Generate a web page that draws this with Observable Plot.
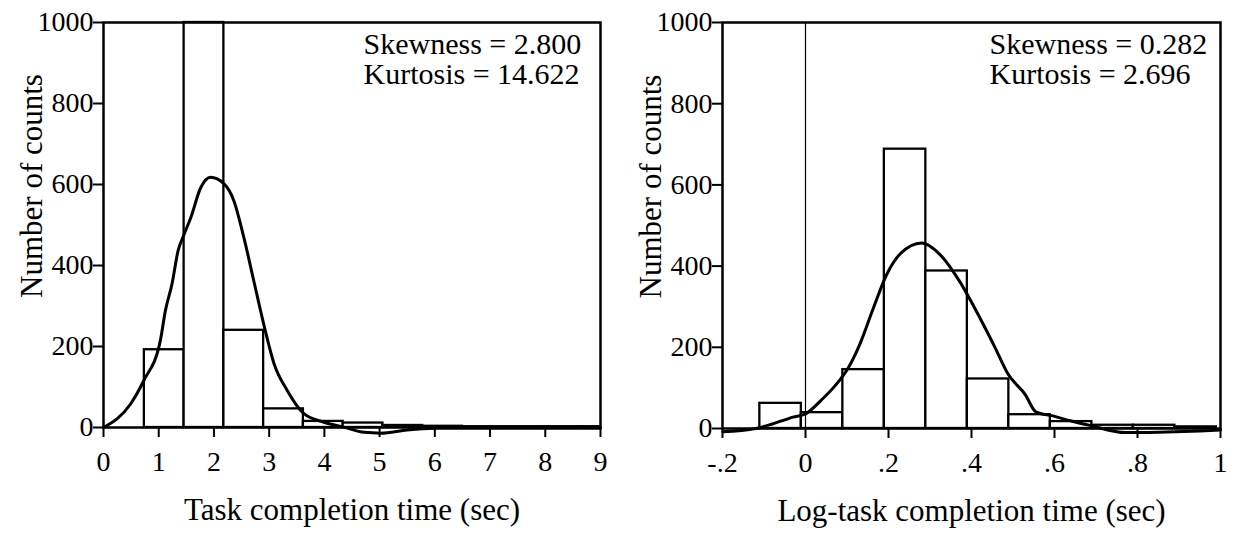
<!DOCTYPE html>
<html><head><meta charset="utf-8">
<script src="https://cdn.jsdelivr.net/npm/d3@7"></script>
<script src="https://cdn.jsdelivr.net/npm/@observablehq/plot@0.6"></script>
<style>
html,body{margin:0;padding:0;background:#fff;}
#wrap{display:flex;width:1243px;height:537px;overflow:hidden;}
</style></head><body><div id="wrap"></div>
<script>
// ---------- Left panel data (raw task completion time) ----------
const leftBinEdges = [0.74, 1.46, 2.18, 2.90, 3.62, 4.34, 5.06, 5.78, 6.50, 7.22, 7.94, 8.66, 9.0];
const leftCounts = [192, 1000, 240, 46, 15, 11, 5, 3, 2, 2, 2, 2];
const leftCurveX = [0, 0.49, 0.73, 1.03, 1.12, 1.24, 1.35, 1.46, 1.58, 1.76, 1.94, 2.18, 2.36, 2.54, 2.72, 2.90, 3.09, 3.33, 3.63, 3.99, 4.35, 4.72, 5.02, 5.5, 6.0, 7.0, 8.0, 9.0];
const leftCurveY = [0, 58, 116, 215, 288, 354, 436, 477, 518, 592, 618, 602, 560, 470, 363, 256, 157, 91, 34, 13, 1, -12, -14, -6, -2, -2, -2, -2];
const leftTicksX = [0, 1, 2, 3, 4, 5, 6, 7, 8, 9];
const leftTickLabels = ["0", "1", "2", "3", "4", "5", "6", "7", "8", "9"];
const leftStats = ["Skewness = 2.800", "Kurtosis = 14.622"];

// ---------- Right panel data (log task completion time) ----------
const rightBinEdges = [-0.11, -0.01, 0.09, 0.19, 0.29, 0.39, 0.49, 0.59, 0.69, 0.79, 0.89, 0.99];
const rightCounts = [62, 39, 145, 688, 388, 122, 34, 17, 8, 8, 4];
const rightCurveX = [-0.2, -0.12, -0.08, -0.03, 0.0, 0.038, 0.071, 0.104, 0.129, 0.163, 0.196, 0.229, 0.280, 0.330, 0.371, 0.421, 0.455, 0.488, 0.53, 0.555, 0.596, 0.638, 0.688, 0.771, 0.85, 0.95, 1.0];
const rightCurveY = [-8, 0, 11, 28, 36, 70, 105, 151, 203, 295, 380, 431, 457, 422, 363, 271, 203, 134, 83, 41, 31, 19, 7, -10, -9, -6, -4];
const rightTicksX = [-0.2, 0, 0.2, 0.4, 0.6, 0.8, 1];
const rightTickLabels = ["-.2", "0", ".2", ".4", ".6", ".8", "1"];
const rightStats = ["Skewness = 0.282", "Kurtosis = 2.696"];

const yTicks = [0, 200, 400, 600, 800, 1000];
const yLabel = "Number of counts";

function bars(edges, counts) {
  return counts.map((c, i) => ({x1: edges[i], x2: edges[i + 1], y: c}));
}
function pts(xs, ys) { return xs.map((x, i) => ({x, y: ys[i]})); }

function panel({width, marginLeft, marginRight, marginTop, marginBottom, xDomain, ticksX, tickLabels, xLabel, binEdges, counts, curveX, curveY, stats, statDx, zeroRule}) {
  const marks = [
    Plot.rect(bars(binEdges, counts), {x1: "x1", x2: "x2", y1: 0, y2: "y", fill: "white", stroke: "black", strokeWidth: 2.3}),
  ];
  if (zeroRule) marks.push(Plot.ruleX([0], {stroke: "black", strokeWidth: 1.2}));
  marks.push(
    Plot.line(pts(curveX, curveY), {x: "x", y: "y", curve: "monotone-x", stroke: "black", strokeWidth: 3}),
    Plot.frame({stroke: "black", strokeWidth: 2.5}),
    Plot.axisX({ticks: ticksX, tickFormat: (d, i) => tickLabels[i], tickSize: 10, tickPadding: 14, strokeWidth: 2, fontSize: 28, label: null}),
    Plot.axisX({ticks: [], label: xLabel, labelArrow: "none", labelAnchor: "center", labelOffset: 92, fontSize: 31, tickSize: 0}),
    Plot.axisY({ticks: yTicks, tickFormat: d => String(d), tickSize: 10, tickPadding: 0, strokeWidth: 2, fontSize: 28, label: null}),
    Plot.text([yLabel], {frameAnchor: "left", rotate: -90, textAnchor: "middle", lineAnchor: "bottom", dx: -62, dy: -39, fontSize: 31, fill: "black"}),
    Plot.text([stats.join("\n")], {frameAnchor: "top-left", textAnchor: "start", lineAnchor: "top", dx: statDx, dy: 10, fontSize: 30, lineHeight: 1.0, fill: "black"})
  );
  return Plot.plot({
    width, height: 537, marginLeft, marginRight, marginTop, marginBottom,
    style: {fontFamily: "'Liberation Serif', 'Times New Roman', serif", background: "white", color: "black", overflow: "visible"},
    x: {domain: xDomain},
    y: {domain: [0, 1000]},
    marks
  });
}

const wrap = document.getElementById("wrap");
wrap.appendChild(panel({width: 621, marginLeft: 103, marginRight: 21, marginTop: 22, marginBottom: 110, xDomain: [0, 9],
  ticksX: leftTicksX, tickLabels: leftTickLabels, xLabel: "Task completion time (sec)",
  binEdges: leftBinEdges, counts: leftCounts, curveX: leftCurveX, curveY: leftCurveY, stats: leftStats, statDx: 260, zeroRule: false}));
wrap.appendChild(panel({width: 622, marginLeft: 101, marginRight: 23, marginTop: 22, marginBottom: 109, xDomain: [-0.2, 1],
  ticksX: rightTicksX, tickLabels: rightTickLabels, xLabel: "Log-task completion time (sec)",
  binEdges: rightBinEdges, counts: rightCounts, curveX: rightCurveX, curveY: rightCurveY, stats: rightStats, statDx: 267, zeroRule: true}));
</script>
</body></html>
